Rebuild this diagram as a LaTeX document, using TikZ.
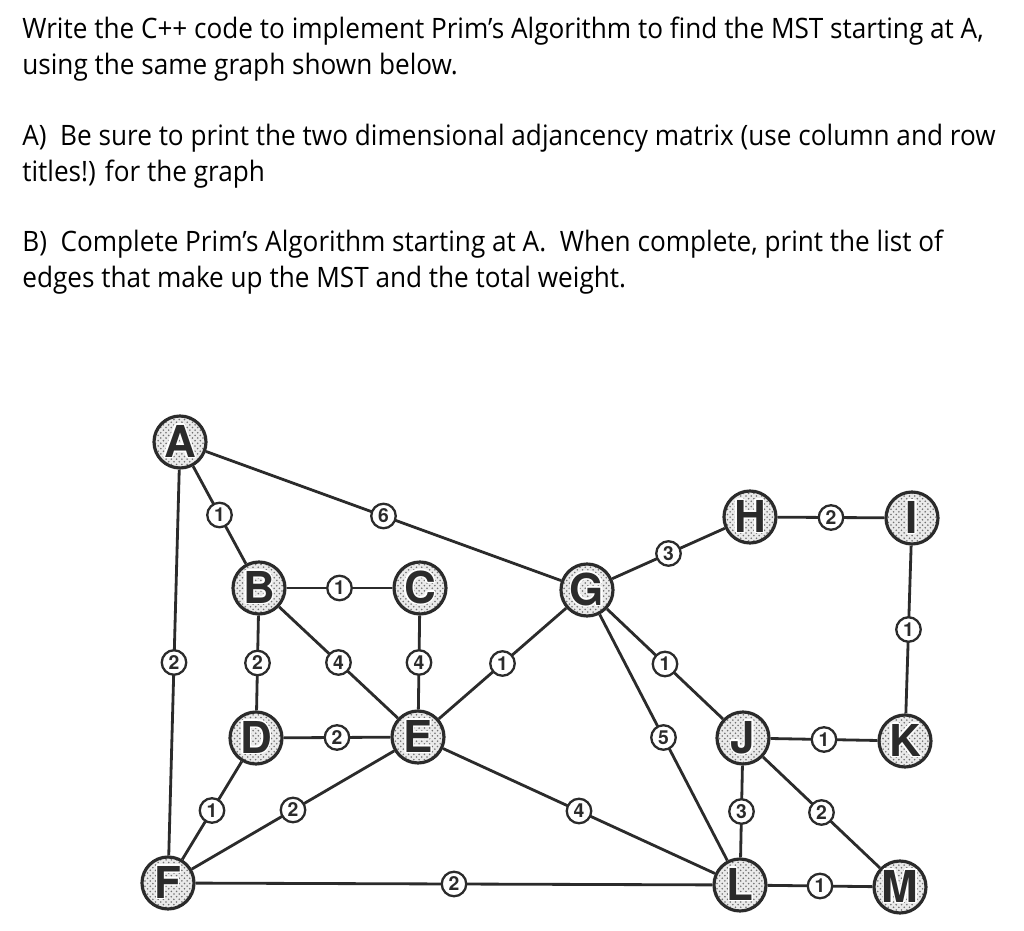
\documentclass[tikz,border=0pt]{standalone}
\usepackage{fontspec}
\usepackage{contour}
\usetikzlibrary{patterns}
\setmainfont{Open Sans}
\newfontfamily\taskfont[FakeStretch=0.93]{Open Sans}
\newfontfamily\vertexfont{TeX Gyre Heros}
\contourlength{0.8pt}
\definecolor{primInk}{HTML}{2B2B2B}
\definecolor{primDots}{HTML}{707070}
\definecolor{primShade}{HTML}{EAEAEA}
\newcommand{\vname}[1]{\contour{white}{#1}}
\tikzset{
  vertex/.style={circle,draw=primInk,line width=1.8pt,minimum size=1.04cm,
                 inner sep=0pt,preaction={fill=primShade},pattern=crosshatch dots,
                 pattern color=primDots,text=primInk,
                 font=\vertexfont\fontsize{25}{25}\selectfont\bfseries},
  cost/.style={circle,draw=primInk,line width=1.3pt,fill=white,
               minimum size=0.49cm,inner sep=0pt,text=primInk,
               font=\vertexfont\fontsize{11}{11}\selectfont\bfseries},
  link/.style={line width=1.6pt,draw=primInk},
  task/.style={anchor=north west,inner sep=0pt,align=left,
               font=\taskfont\fontsize{16}{20.5}\selectfont}
}
\begin{document}
\begin{tikzpicture}[x=0.2mm,y=-0.2mm]
  \useasboundingbox (0,0) rectangle (1024,931);

  % question text
  \node[task] (intro) at (22,17)
    {Write the C++ code to implement Prim’s Algorithm to find the MST starting at A,\\
     using the same graph shown below.};
  \node[task] (parta) at (22,124)
    {A)\ \ Be sure to print the two dimensional adjancency matrix (use column and row\\
     titles!) for the graph};
  \node[task] (partb) at (22,230)
    {B)\ \ Complete Prim’s Algorithm starting at A.\ \ When complete, print the list of\\
     edges that make up the MST and the total weight.};

  % vertices
  \node[vertex] (A) at (180,442) {\vname{A}};
  \node[vertex] (B) at (259,588) {\vname{B}};
  \node[vertex] (C) at (420,588) {\vname{C}};
  \node[vertex] (D) at (256,738) {\vname{D}};
  \node[vertex] (E) at (418,737) {\vname{E}};
  \node[vertex] (F) at (168,883) {\vname{F}};
  \node[vertex] (G) at (587,590) {\vname{G}};
  \node[vertex] (H) at (750,517) {\vname{H}};
  \node[vertex] (I) at (912,518) {\vname{I}};
  \node[vertex] (J) at (743,738) {\vname{J}};
  \node[vertex] (K) at (905,741) {\vname{K}};
  \node[vertex] (L) at (740,885) {\vname{L}};
  \node[vertex] (M) at (900,887) {\vname{M}};

  % weighted edges
  \draw[link] (A) -- node[cost] {1} (B);
  \draw[link] (A) -- node[cost] {6} (G);
  \draw[link] (A) -- node[cost] {2} (F);
  \draw[link] (B) -- node[cost] {1} (C);
  \draw[link] (B) -- node[cost] {2} (D);
  \draw[link] (B) -- node[cost] {4} (E);
  \draw[link] (C) -- node[cost] {4} (E);
  \draw[link] (D) -- node[cost] {2} (E);
  \draw[link] (D) -- node[cost] {1} (F);
  \draw[link] (F) -- node[cost] {2} (E);
  \draw[link] (F) -- node[cost] {2} (L);
  \draw[link] (E) -- node[cost] {1} (G);
  \draw[link] (E) -- node[cost] {4} (L);
  \draw[link] (G) -- node[cost] {3} (H);
  \draw[link] (H) -- node[cost] {2} (I);
  \draw[link] (I) -- node[cost] {1} (K);
  \draw[link] (G) -- node[cost] {1} (J);
  \draw[link] (G) -- node[cost] {5} (L);
  \draw[link] (J) -- node[cost] {1} (K);
  \draw[link] (J) -- node[cost] {3} (L);
  \draw[link] (J) -- node[cost] {2} (M);
  \draw[link] (L) -- node[cost] {1} (M);
\end{tikzpicture}
\end{document}
